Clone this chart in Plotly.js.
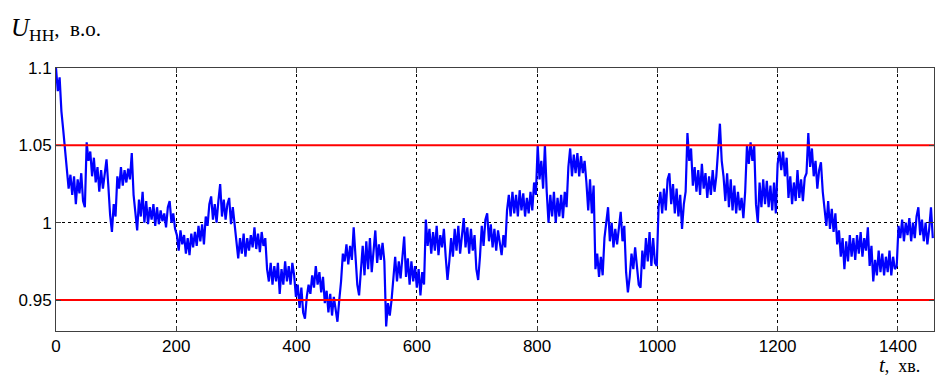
<!DOCTYPE html>
<html>
<head>
<meta charset="utf-8">
<script src="https://cdn.plot.ly/plotly-3.0.1.min.js"></script>
<style>
  html, body { margin: 0; padding: 0; background: #fff; }
  #chart { width: 945px; height: 378px; }
</style>
</head>
<body>
<div id="chart"></div>
<script>
// Sampling: one value every 3 minutes, starting at t = 0
const tStart = 0;
const tStep = 3;

// Voltage on LV side, p.u. (3-min samples, one row per hour)
const voltage = [
  1.100, 1.085, 1.094, 1.072, 1.060, 1.048, 1.036, 1.022, 1.031, 1.018, 1.030, 1.012, 1.028, 1.019, 1.032, 1.014, 1.010, 1.052, 1.040, 1.046,
  1.030, 1.042, 1.026, 1.036, 1.020, 1.034, 1.022, 1.030, 1.041, 1.024, 1.005, 0.994, 1.012, 1.004, 1.030, 1.022, 1.036, 1.024, 1.034, 1.026,
  1.035, 1.028, 1.045, 1.018, 1.008, 0.995, 1.015, 1.004, 1.020, 1.000, 1.014, 0.999, 1.010, 1.002, 1.012, 0.998, 1.010, 0.999, 1.008, 1.001,
  1.006, 0.997, 1.010, 1.014, 1.000, 1.006, 0.996, 0.992, 0.982, 0.995, 0.986, 0.992, 0.980, 0.990, 0.979, 0.993, 0.984, 0.994, 0.985, 0.998,
  0.988, 0.999, 0.986, 1.004, 0.998, 1.012, 1.017, 1.002, 1.012, 1.000, 1.014, 1.025, 1.004, 1.015, 1.002, 1.012, 1.016, 0.999, 1.010, 0.998,
  0.988, 0.977, 0.990, 0.980, 0.993, 0.978, 0.990, 0.982, 0.992, 0.984, 0.997, 0.983, 0.993, 0.981, 0.994, 0.985, 0.990, 0.970, 0.962, 0.974,
  0.960, 0.972, 0.962, 0.974, 0.954, 0.970, 0.960, 0.975, 0.962, 0.972, 0.960, 0.974, 0.966, 0.952, 0.960, 0.945, 0.958, 0.942, 0.938, 0.952,
  0.960, 0.954, 0.966, 0.958, 0.972, 0.960, 0.968, 0.955, 0.965, 0.948, 0.956, 0.942, 0.954, 0.940, 0.952, 0.944, 0.936, 0.950, 0.962, 0.980,
  0.975, 0.986, 0.973, 0.985, 0.976, 0.997, 0.975, 0.960, 0.953, 0.970, 0.985, 0.966, 0.988, 0.970, 0.990, 0.968, 0.982, 0.995, 0.974, 0.986,
  0.976, 0.987, 0.975, 0.933, 0.948, 0.940, 0.950, 0.966, 0.978, 0.962, 0.975, 0.964, 0.980, 0.991, 0.965, 0.977, 0.960, 0.975, 0.962, 0.972,
  0.958, 0.970, 0.953, 0.968, 0.960, 1.002, 0.985, 0.996, 0.980, 0.994, 0.982, 0.998, 0.979, 0.992, 0.984, 0.996, 0.978, 0.963, 0.975, 0.990,
  0.978, 0.996, 0.982, 0.998, 0.980, 0.994, 1.003, 0.984, 0.997, 0.980, 0.996, 0.982, 0.992, 0.970, 0.963, 0.978, 0.998, 0.985, 1.002, 1.006,
  0.988, 0.999, 0.984, 0.996, 0.982, 0.995, 0.985, 0.979, 0.992, 0.984, 1.008, 1.018, 1.004, 1.020, 1.006, 1.018, 1.004, 1.021, 1.008, 1.019,
  1.004, 1.016, 1.006, 1.020, 1.008, 1.026, 1.018, 1.050, 1.028, 1.040, 1.022, 1.050, 1.020, 1.000, 1.018, 1.004, 1.020, 1.000, 1.016, 1.004,
  1.018, 1.003, 1.020, 1.010, 1.036, 1.048, 1.030, 1.044, 1.032, 1.045, 1.030, 1.043, 1.032, 1.040, 1.026, 1.008, 1.028, 1.006, 1.024, 0.970,
  0.980, 0.965, 0.978, 0.966, 0.990, 1.002, 1.010, 0.988, 1.000, 0.984, 0.996, 0.986, 0.999, 1.007, 0.988, 0.998, 0.968, 0.955, 0.965, 0.980,
  0.970, 0.984, 0.972, 0.960, 0.958, 0.982, 0.970, 0.990, 0.975, 0.994, 0.972, 0.990, 0.974, 0.972, 1.010, 1.020, 1.006, 1.022, 1.008, 1.028,
  1.032, 1.012, 1.025, 1.006, 1.022, 1.004, 1.018, 0.996, 1.012, 1.020, 1.058, 1.040, 1.048, 1.024, 1.036, 1.020, 1.034, 1.018, 1.038, 1.022,
  1.032, 1.016, 1.030, 1.018, 1.034, 1.020, 1.030, 1.045, 1.064, 1.040, 1.030, 1.014, 1.032, 1.010, 1.028, 1.008, 1.024, 1.006, 1.020, 1.008,
  1.016, 1.003, 1.020, 1.050, 1.038, 1.052, 1.040, 1.050, 1.012, 1.000, 1.026, 1.010, 1.028, 1.012, 1.027, 1.010, 1.024, 1.008, 1.026, 1.006,
  1.038, 1.046, 1.034, 1.046, 1.030, 1.042, 1.016, 1.030, 1.012, 1.026, 1.014, 1.034, 1.016, 1.028, 1.014, 1.029, 1.032, 1.058, 1.036, 1.048,
  1.030, 1.040, 1.022, 1.034, 1.039, 1.020, 1.010, 0.998, 1.014, 0.996, 1.009, 0.994, 1.006, 0.986, 0.995, 0.978, 0.990, 0.970, 0.988, 0.975,
  0.992, 0.978, 0.990, 0.976, 0.992, 0.980, 0.994, 0.978, 0.990, 0.982, 0.997, 0.972, 0.985, 0.962, 0.976, 0.966, 0.982, 0.968, 0.980, 0.966,
  0.978, 0.968, 0.982, 0.966, 0.978, 0.970, 0.972, 0.998, 0.990, 1.002, 0.988, 1.000, 0.992, 1.003, 0.988, 1.000, 0.990, 1.004, 1.010, 0.992,
  1.002, 0.988, 1.000, 0.986, 0.996, 1.010, 0.990
];

// Permissible limits, p.u.
const limits = [1.05, 0.95];

// Axis ticks
const xTicks = [0, 200, 400, 600, 800, 1000, 1200, 1400];
const yTicks = [0.95, 1, 1.05, 1.1];
const yTickLabels = ['0.95', '1', '1.05', '1.1'];

const xMax = 1460;

const traces = [{
  type: 'scatter',
  mode: 'lines',
  x0: tStart,
  dx: tStep,
  y: voltage,
  line: { color: '#0000ff', width: 2.2 },
  hoverinfo: 'skip',
  showlegend: false
}];

limits.forEach(v => {
  traces.push({
    type: 'scatter',
    mode: 'lines',
    x: [0, xMax],
    y: [v, v],
    line: { color: '#ff0000', width: 2 },
    hoverinfo: 'skip',
    showlegend: false
  });
});

const tickFont = { family: 'Liberation Sans Narrow, Arial Narrow, Liberation Sans, Arial, sans-serif', size: 17, color: '#000' };

const layout = {
  width: 945,
  height: 378,
  margin: { l: 56, r: 11, t: 68, b: 47 },
  paper_bgcolor: '#ffffff',
  plot_bgcolor: '#ffffff',
  showlegend: false,
  xaxis: {
    range: [0, xMax],
    tickvals: xTicks,
    ticktext: xTicks.map(String),
    tickfont: tickFont,
    ticks: 'inside',
    ticklen: 5,
    tickcolor: '#404040',
    showline: true,
    linecolor: '#404040',
    linewidth: 1,
    mirror: 'ticks',
    showgrid: true,
    gridcolor: '#000000',
    gridwidth: 1,
    griddash: 'dot',
    zeroline: false,
    fixedrange: true
  },
  yaxis: {
    range: [0.93, 1.1],
    tickvals: yTicks,
    ticktext: yTickLabels,
    tickfont: tickFont,
    ticks: 'inside',
    ticklen: 5,
    tickcolor: '#404040',
    showline: true,
    linecolor: '#404040',
    linewidth: 1,
    mirror: 'ticks',
    showgrid: true,
    gridcolor: '#000000',
    gridwidth: 1,
    griddash: 'dot',
    zeroline: false,
    fixedrange: true
  },
  annotations: [
    {
      xref: 'paper', yref: 'paper',
      x: -0.054, y: 1.145,
      xanchor: 'left', yanchor: 'middle',
      showarrow: false,
      text: '<i>U</i><sub>НН</sub><span style="font-size:21px">,  в.о.</span>',
      font: { family: 'Liberation Serif, Times New Roman, serif', size: 25, color: '#000' }
    },
    {
      xref: 'paper', yref: 'paper',
      x: 0.936, y: -0.18,
      xanchor: 'left', yanchor: 'bottom',
      borderpad: 0,
      showarrow: false,
      text: '<i>t</i><span style="font-size:18px">,  хв.</span>',
      font: { family: 'Liberation Serif, Times New Roman, serif', size: 21, color: '#000' }
    }
  ]
};

Plotly.newPlot('chart', traces, layout, { staticPlot: true, displayModeBar: false });
</script>
</body>
</html>
